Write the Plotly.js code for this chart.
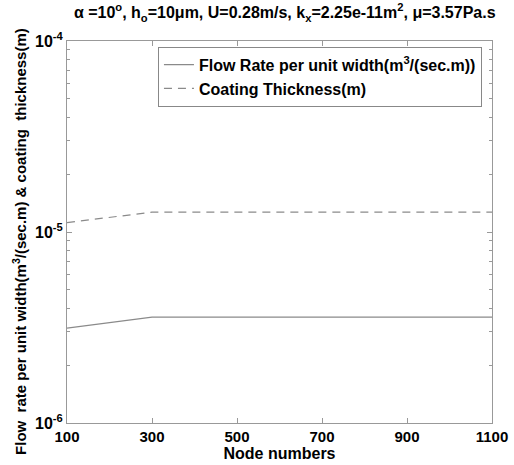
<!DOCTYPE html>
<html>
<head>
<meta charset="utf-8">
<script src="https://cdn.plot.ly/plotly-3.0.1.min.js"></script>
<style>html,body{margin:0;padding:0;background:#fff;}#chart{width:514px;height:465px;}</style>
</head>
<body>
<div id="chart"></div>
<script>
const nodes = [100, 300, 500, 700, 900, 1100];
const flowRate = [3.14e-6, 3.58e-6, 3.58e-6, 3.58e-6, 3.58e-6, 3.58e-6];
const coatingThickness = [1.12e-5, 1.27e-5, 1.27e-5, 1.27e-5, 1.27e-5, 1.27e-5];
const xTicks = [100, 300, 500, 700, 900, 1100];
const yTickVals = [1e-6, 1e-5, 1e-4];
const yTickText = ['10<sup>-6</sup>', '10<sup>-5</sup>', '10<sup>-4</sup>'];
const yMinorVals = [];
[1e-6, 1e-5].forEach(d => { for (let k = 2; k <= 9; k++) yMinorVals.push(k * d); });

const font = {family: 'Liberation Sans, Arial, sans-serif', color: '#000'};
const traces = [
  {x: nodes, y: flowRate, mode: 'lines', name: '<b>Flow Rate per unit width(m<sup>3</sup>/(sec.m))</b>',
   line: {color: '#8a8a8a', width: 1.2}},
  {x: nodes, y: coatingThickness, mode: 'lines', name: '<b>Coating Thickness(m)</b>',
   line: {color: '#8a8a8a', width: 1.2, dash: '8px,6px'}}
];
const layout = {
  width: 514, height: 465,
  margin: {l: 67, r: 22, t: 41, b: 42},
  paper_bgcolor: '#fff', plot_bgcolor: '#fff',
  font: Object.assign({}, font, {size: 15}),
  showlegend: true,
  title: {text: '<b>α =10<sup>o</sup>, h<sub>o</sub>=10μm, U=0.28m/s, k<sub>x</sub>=2.25e-11m<sup>2</sup>, μ=3.57Pa.s</b>',
    font: Object.assign({}, font, {size: 16}), x: 0.554, xanchor: 'center', y: 0.985, yanchor: 'top'},
  xaxis: {range: [100, 1100], tickvals: xTicks, ticktext: xTicks.map(v => '<b>' + v + '</b>'),
    ticks: 'inside', ticklen: 5, tickcolor: '#999', showline: true, linecolor: '#999', linewidth: 1,
    mirror: 'ticks', showgrid: false, zeroline: false,
    tickfont: Object.assign({}, font, {size: 15}),
    title: {text: '<b>Node numbers</b>', font: Object.assign({}, font, {size: 16}), standoff: 0}},
  yaxis: {type: 'log', range: [-6, -4], tickvals: yTickVals, ticktext: yTickText.map(t => '<b>' + t + '</b>'),
    ticks: 'inside', ticklen: 5, tickcolor: '#999', showline: true, linecolor: '#999', linewidth: 1,
    mirror: 'ticks', showgrid: false, zeroline: false,
    minor: {tickvals: yMinorVals, ticks: 'inside', ticklen: 3, tickcolor: '#999', showgrid: false},
    tickfont: Object.assign({}, font, {size: 16})},
  annotations: [{
    text: '<b>Flow  rate per unit width(m<sup>3</sup>/(sec.m) & coating  thickness(m)</b>',
    textangle: -90, xref: 'paper', yref: 'paper', x: -0.112, y: 0.475,
    xanchor: 'center', yanchor: 'middle', showarrow: false,
    font: Object.assign({}, font, {size: 15})
  }],
  legend: {x: 0.214, xanchor: 'left', y: 0.985, yanchor: 'top', bgcolor: '#fff',
    bordercolor: '#888', borderwidth: 1, font: Object.assign({}, font, {size: 16}),
    itemwidth: 30, tracegroupgap: 0}
};
Plotly.newPlot('chart', traces, layout, {displayModeBar: false, staticPlot: true});
</script>
</body>
</html>
